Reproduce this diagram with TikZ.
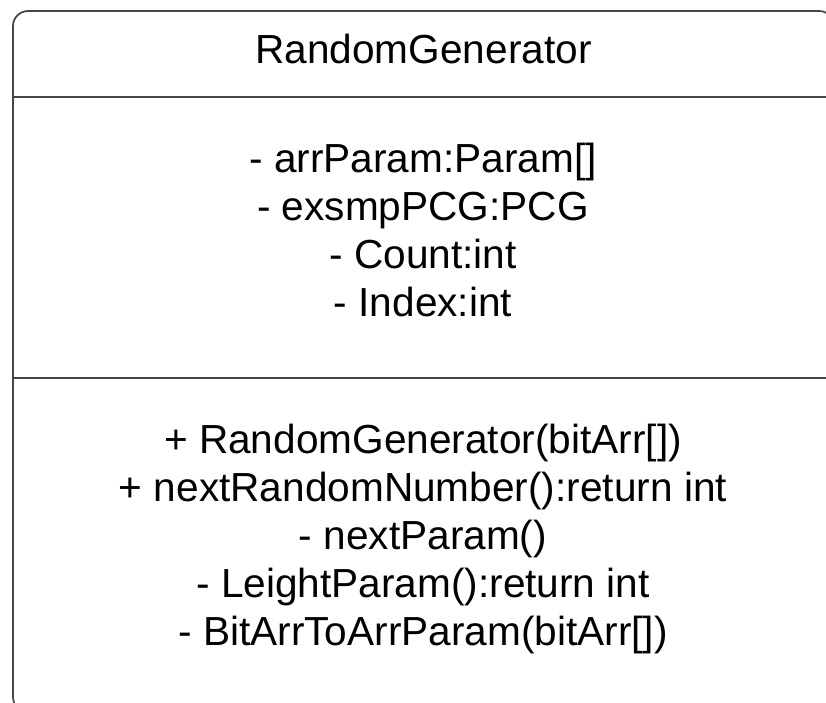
\documentclass[tikz,border=0pt]{standalone}
\usepackage{fontspec}
\setmainfont{Liberation Sans}
\definecolor{linegray}{HTML}{454545}
\begin{document}
\begin{tikzpicture}[x=1pt,y=-1pt,
  boxline/.style={draw=linegray,line width=1.7pt},
  txt/.style={anchor=base,inner sep=0pt,font=\fontsize{40.6}{48}\selectfont,text=black}]
\useasboundingbox (0,0) rectangle (826,702);
\begin{scope}
\clip (0,0) rectangle (826,702);
\draw[boxline,rounded corners=15pt] (13,11) rectangle (834,712);
\draw[boxline] (13,97) -- (834,97);
\draw[boxline] (13,378) -- (834,378);
\end{scope}
\node[txt] (title) at (423.5,63) {RandomGenerator};
\node[txt] (a1) at (423,172) {- arrParam:Param[]};
\node[txt] (a2) at (423,220) {- exsmpPCG:PCG};
\node[txt] (a3) at (423,268) {- Count:int};
\node[txt] (a4) at (423,316) {- Index:int};
\node[txt] (m1) at (423,453) {+ RandomGenerator(bitArr[])};
\node[txt] (m2) at (423,501) {+ nextRandomNumber():return int};
\node[txt] (m3) at (423,549) {- nextParam()};
\node[txt] (m4) at (423,597) {- LeightParam():return int};
\node[txt] (m5) at (423,645) {- BitArrToArrParam(bitArr[])};
\end{tikzpicture}
\end{document}
